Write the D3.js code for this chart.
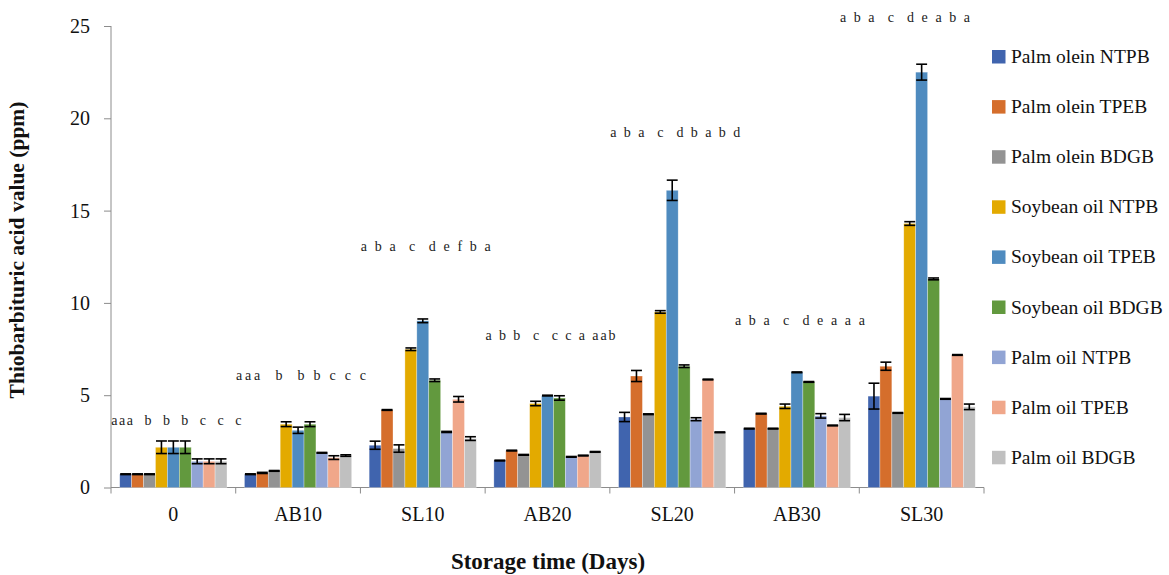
<!DOCTYPE html>
<html>
<head>
<meta charset="utf-8">
<script src="https://cdn.jsdelivr.net/npm/d3@7"></script>
<style>
  body { margin: 0; background: #fff; }
  svg { display: block; font-family: "Liberation Serif", "DejaVu Serif", serif; }
</style>
</head>
<body>
<div class="chart"></div>
<script>
// storage time groups
const categories = ["0", "AB10", "SL10", "AB20", "SL20", "AB30", "SL30"];

const seriesNames = [
  "Palm olein NTPB", "Palm olein TPEB", "Palm olein BDGB",
  "Soybean oil NTPB", "Soybean oil TPEB", "Soybean oil BDGB",
  "Palm oil NTPB", "Palm oil TPEB", "Palm oil BDGB"
];

const palmOleinNTPB = [0.72, 0.72, 2.29, 1.46, 3.82, 3.19, 4.95];
const palmOleinTPEB = [0.72, 0.79, 4.20, 2.00, 6.04, 4.00, 6.57];
const palmOleinBDGB = [0.72, 0.90, 2.11, 1.77, 3.97, 3.19, 4.04];
const soyNTPB = [2.18, 3.43, 7.49, 4.55, 9.51, 4.40, 14.30];
const soyTPEB = [2.18, 3.10, 9.03, 4.98, 16.10, 6.24, 22.50];
const soyBDGB = [2.18, 3.43, 5.81, 4.85, 6.57, 5.72, 11.30];
const palmNTPB = [1.42, 1.88, 3.01, 1.66, 3.70, 3.88, 4.80];
const palmTPEB = [1.42, 1.62, 4.78, 1.73, 5.85, 3.36, 7.18];
const palmBDGB = [1.42, 1.73, 2.65, 1.93, 2.99, 3.79, 4.37];

// standard deviations (error bars)
const errPalmOleinNTPB = [0.02, 0.02, 0.22, 0.02, 0.25, 0.02, 0.70];
const errPalmOleinTPEB = [0.02, 0.03, 0.02, 0.02, 0.30, 0.02, 0.22];
const errPalmOleinBDGB = [0.02, 0.02, 0.20, 0.02, 0.02, 0.02, 0.02];
const errSoyNTPB = [0.34, 0.13, 0.07, 0.12, 0.07, 0.12, 0.10];
const errSoyTPEB = [0.34, 0.17, 0.10, 0.02, 0.55, 0.02, 0.43];
const errSoyBDGB = [0.34, 0.13, 0.07, 0.12, 0.07, 0.02, 0.05];
const errPalmNTPB = [0.13, 0.02, 0.03, 0.02, 0.08, 0.12, 0.02];
const errPalmTPEB = [0.13, 0.10, 0.15, 0.02, 0.02, 0.02, 0.02];
const errPalmBDGB = [0.13, 0.04, 0.10, 0.02, 0.02, 0.17, 0.15];

// significance letters above each group and the level they sit at
const groupLetters = [
  "aaa  b  b  b  c  c  c",
  "aaa  b  b b c c c",
  "a b a  c  d e f b a",
  "a b b  c  c c a aab",
  "a b a  c  d b a b d",
  "a b a  c  d e a a a",
  "a b a  c  d e a b a"
];
const letterLevels = [3.4, 5.8, 12.8, 8.0, 19.0, 8.8, 25.2];

const yTicks = [0, 5, 10, 15, 20, 25];

const colors = ["#4064AE", "#D56E2C", "#939393", "#E3AA00", "#4F8BBF",
                "#62993E", "#91A4D4", "#F0A78A", "#C0C0C0"];

const values = [palmOleinNTPB, palmOleinTPEB, palmOleinBDGB, soyNTPB, soyTPEB,
                soyBDGB, palmNTPB, palmTPEB, palmBDGB];
const errors = [errPalmOleinNTPB, errPalmOleinTPEB, errPalmOleinBDGB, errSoyNTPB,
                errSoyTPEB, errSoyBDGB, errPalmNTPB, errPalmTPEB, errPalmBDGB];

const width = 1169, height = 575;
const margin = { top: 26, right: 185, bottom: 88, left: 111 };
const plotRight = 984;

const svg = d3.select(".chart").append("svg")
  .attr("width", width)
  .attr("height", height);

const x0 = d3.scaleBand()
  .domain(categories)
  .range([margin.left, plotRight])
  .paddingInner(0.14)
  .paddingOuter(0.07);

const x1 = d3.scaleBand()
  .domain(seriesNames)
  .range([0, x0.bandwidth()]);

const y = d3.scaleLinear()
  .domain([0, 25])
  .range([height - margin.bottom + 0.5, margin.top]);

// flatten into bar records
const bars = [];
categories.forEach((c, ci) => {
  seriesNames.forEach((s, si) => {
    bars.push({ cat: c, series: s, si: si, v: values[si][ci], e: errors[si][ci] });
  });
});

// y axis
const yAxis = svg.append("g")
  .attr("transform", "translate(" + margin.left + ",0)")
  .call(d3.axisLeft(y).tickValues(yTicks).tickSize(7).tickPadding(14));
yAxis.selectAll("line, path").attr("stroke", "#8c8c8c");
yAxis.select(".domain").attr("d", "M0," + y(0) + "V" + y(25));
yAxis.selectAll("text")
  .attr("font-family", "Liberation Serif")
  .attr("font-size", 20)
  .attr("fill", "#111");

// x axis: line + ticks at band boundaries
const xAxis = svg.append("g");
const step = x0.step();
xAxis.append("line")
  .attr("x1", margin.left).attr("x2", plotRight)
  .attr("y1", y(0)).attr("y2", y(0))
  .attr("stroke", "#8c8c8c");
xAxis.selectAll(".xt")
  .data(categories.concat(["end"]))
  .join("line")
  .attr("class", "xt")
  .attr("x1", (d, i) => margin.left + i * step)
  .attr("x2", (d, i) => margin.left + i * step)
  .attr("y1", y(0)).attr("y2", y(0) + 6)
  .attr("stroke", "#8c8c8c");
xAxis.selectAll(".xl")
  .data(categories)
  .join("text")
  .attr("class", "xl")
  .attr("x", d => x0(d) + x0.bandwidth() / 2)
  .attr("y", y(0) + 33)
  .attr("text-anchor", "middle")
  .attr("font-size", 20)
  .attr("fill", "#111")
  .text(d => d);

// bars
svg.append("g").selectAll("rect")
  .data(bars)
  .join("rect")
  .attr("x", d => x0(d.cat) + x1(d.series))
  .attr("y", d => y(d.v))
  .attr("width", x1.bandwidth())
  .attr("height", d => y(0) - y(d.v))
  .attr("fill", d => colors[d.si])
  .attr("stroke", "#ffffff")
  .attr("stroke-opacity", 0.5)
  .attr("stroke-width", 0.6);

// error bars
const eb = svg.append("g").attr("stroke", "#000").attr("stroke-width", 1.6);
bars.forEach(d => {
  const cx = x0(d.cat) + x1(d.series) + x1.bandwidth() / 2;
  const hw = x1.bandwidth() / 2 - 0.5;
  eb.append("line").attr("x1", cx).attr("x2", cx)
    .attr("y1", y(d.v + d.e)).attr("y2", y(d.v - d.e));
  eb.append("line").attr("x1", cx - hw).attr("x2", cx + hw)
    .attr("y1", y(d.v + d.e)).attr("y2", y(d.v + d.e));
  eb.append("line").attr("x1", cx - hw).attr("x2", cx + hw)
    .attr("y1", y(d.v - d.e)).attr("y2", y(d.v - d.e));
});

// significance letters (kept inside the plot on the right)
const letterW = 130;
svg.append("g").selectAll("text")
  .data(categories)
  .join("text")
  .attr("x", d => Math.min(x0(d) + x0.bandwidth() / 2 + 3, 970 - letterW / 2))
  .attr("y", (d, i) => y(letterLevels[i]))
  .attr("text-anchor", "middle")
  .attr("font-size", 14)
  .attr("fill", "#222")
  .attr("xml:space", "preserve")
  .style("white-space", "pre")
  .attr("textLength", letterW)
  .attr("lengthAdjust", "spacing")
  .text((d, i) => groupLetters[i]);

// legend
const legend = svg.append("g").attr("transform", "translate(992,0)");
seriesNames.forEach((s, i) => {
  const ly = 56 + i * 50.1;
  legend.append("rect")
    .attr("x", 0).attr("y", ly - 6)
    .attr("width", 13.5).attr("height", 13.5)
    .attr("fill", colors[i]);
  legend.append("text")
    .attr("x", 19).attr("y", ly + 7)
    .attr("font-size", 19.5)
    .attr("fill", "#111")
    .text(s);
});

// axis titles
svg.append("text")
  .attr("transform", "translate(24,250) rotate(-90)")
  .attr("text-anchor", "middle")
  .attr("font-size", 21.5)
  .attr("font-weight", "bold")
  .attr("fill", "#111")
  .text("Thiobarbituric acid value (ppm)");

svg.append("text")
  .attr("x", 548)
  .attr("y", 569)
  .attr("text-anchor", "middle")
  .attr("font-size", 23)
  .attr("font-weight", "bold")
  .attr("fill", "#111")
  .text("Storage time (Days)");
</script>
</body>
</html>
